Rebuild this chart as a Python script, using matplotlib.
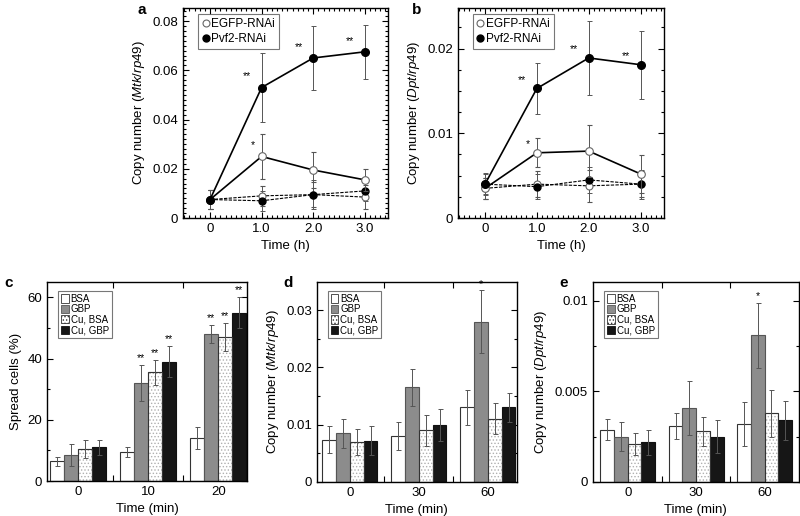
import matplotlib
matplotlib.use("Agg")
import matplotlib.pyplot as plt
import numpy as np
from matplotlib.ticker import MultipleLocator, FixedLocator
from matplotlib.patches import Patch
from matplotlib.lines import Line2D

plt.rcParams['font.family'] = ['Liberation Sans', 'DejaVu Sans']
plt.rcParams['mathtext.fontset'] = 'custom'
plt.rcParams['mathtext.rm'] = 'Liberation Sans'
plt.rcParams['mathtext.it'] = 'Liberation Sans:italic'
plt.rcParams['hatch.linewidth'] = 0.6

# ---------------- data ----------------
time_h = [0, 1.0, 2.0, 3.0]
time_h_labels = ['0', '1.0', '2.0', '3.0']

# Panel a (Mtk/rp49)
a_pvf2 = [0.0075, 0.053, 0.065, 0.0675]
a_pvf2_err = [0.004, 0.014, 0.013, 0.011]
a_egfp = [0.0075, 0.025, 0.0195, 0.0155]
a_egfp_err = [0.004, 0.009, 0.0075, 0.0045]
a_pvf2_ctrl = [0.0075, 0.007, 0.0095, 0.011]
a_pvf2_ctrl_err = [0.004, 0.004, 0.006, 0.004]
a_egfp_ctrl = [0.0075, 0.009, 0.0095, 0.0085]
a_egfp_ctrl_err = [0.004, 0.004, 0.005, 0.005]
a_pvf2_stars = ['', '**', '**', '**']
a_egfp_stars = ['', '*', '', '']

# Panel b (Dpt/rp49)
b_pvf2 = [0.004, 0.0153, 0.0189, 0.0181]
b_pvf2_err = [0.0013, 0.003, 0.0044, 0.004]
b_egfp = [0.0035, 0.0077, 0.0079, 0.0052]
b_egfp_err = [0.0012, 0.0017, 0.0031, 0.0022]
b_pvf2_ctrl = [0.004, 0.0037, 0.0045, 0.004]
b_pvf2_ctrl_err = [0.0012, 0.0015, 0.0015, 0.0017]
b_egfp_ctrl = [0.0035, 0.004, 0.0038, 0.004]
b_egfp_ctrl_err = [0.0012, 0.0015, 0.0019, 0.0015]
b_pvf2_stars = ['', '**', '**', '**']
b_egfp_stars = ['', '*', '', '']

# Bar panels
bar_groups = ['BSA', 'GBP', 'Cu, BSA', 'Cu, GBP']
c_labels = ['0', '10', '20']
c_vals = {
    'BSA': [6.5, 9.5, 14.0],
    'GBP': [8.5, 32.0, 48.0],
    'Cu, BSA': [10.5, 35.5, 47.0],
    'Cu, GBP': [11.0, 39.0, 55.0],
}
c_errs = {
    'BSA': [1.5, 1.5, 3.5],
    'GBP': [3.5, 6.0, 3.0],
    'Cu, BSA': [3.0, 4.0, 4.5],
    'Cu, GBP': [2.5, 5.0, 5.0],
}
c_stars = {
    'BSA': ['', '', ''],
    'GBP': ['', '**', '**'],
    'Cu, BSA': ['', '**', '**'],
    'Cu, GBP': ['', '**', '**'],
}

d_labels = ['0', '30', '60']
d_vals = {
    'BSA': [0.0074, 0.008, 0.013],
    'GBP': [0.0085, 0.0165, 0.028],
    'Cu, BSA': [0.007, 0.009, 0.011],
    'Cu, GBP': [0.0072, 0.010, 0.013],
}
d_errs = {
    'BSA': [0.0023, 0.0025, 0.003],
    'GBP': [0.0025, 0.0033, 0.0055],
    'Cu, BSA': [0.0023, 0.0027, 0.0027],
    'Cu, GBP': [0.0025, 0.0028, 0.0025],
}
d_stars = {
    'BSA': ['', '', ''],
    'GBP': ['', '', '*'],
    'Cu, BSA': ['', '', ''],
    'Cu, GBP': ['', '', ''],
}

e_labels = ['0', '30', '60']
e_vals = {
    'BSA': [0.0029, 0.0031, 0.0032],
    'GBP': [0.0025, 0.0041, 0.0081],
    'Cu, BSA': [0.0021, 0.0028, 0.0038],
    'Cu, GBP': [0.0022, 0.0025, 0.0034],
}
e_errs = {
    'BSA': [0.0006, 0.0007, 0.0012],
    'GBP': [0.0008, 0.0015, 0.0018],
    'Cu, BSA': [0.0006, 0.0008, 0.0013],
    'Cu, GBP': [0.0007, 0.0009, 0.0011],
}
e_stars = {
    'BSA': ['', '', ''],
    'GBP': ['', '', '*'],
    'Cu, BSA': ['', '', ''],
    'Cu, GBP': ['', '', ''],
}

# ---------------- styling ----------------
FS = 9.5
TFS = 9.5
ERRC = '#555555'

fig = plt.figure(figsize=(8.0, 5.16), dpi=100)


def style_axes(ax):
    ax.tick_params(which='both', direction='in', top=True, right=True,
                   labelsize=TFS, width=0.8)
    ax.tick_params(which='major', length=4)
    ax.tick_params(which='minor', length=2)
    for s in ax.spines.values():
        s.set_linewidth(1.0)


def line_panel(rect, pvf2, pvf2e, egfp, egfpe, pvc, pvce, egc, egce,
               pst, est, ylim, ymaj, ymin, ylabel, star_dy):
    ax = fig.add_axes(rect)
    ekw = dict(ecolor=ERRC, elinewidth=0.7, capsize=1.8, capthick=0.7)
    # control (dashed)
    ax.errorbar(time_h, egc, yerr=egce, color='black', ls=(0, (3, 1.2)), lw=0.8,
                marker='o', ms=5, mfc='white', mec='#666666', mew=0.8, zorder=3, **ekw)
    ax.errorbar(time_h, pvc, yerr=pvce, color='black', ls=(0, (3, 1.2)), lw=0.8,
                marker='o', ms=5, mfc='black', mec='black', zorder=3, **ekw)
    # treatment (solid)
    ax.errorbar(time_h, egfp, yerr=egfpe, color='black', ls='-', lw=1.2,
                marker='o', ms=5.5, mfc='white', mec='#666666', mew=0.8, zorder=4, **ekw)
    ax.errorbar(time_h, pvf2, yerr=pvf2e, color='black', ls='-', lw=1.2,
                marker='o', ms=5.5, mfc='black', mec='black', zorder=4, **ekw)
    for x, y, s in zip(time_h, pvf2, pst):
        if s:
            ax.text(x - 0.28, y + star_dy, s, ha='center', va='center', fontsize=7.5)
    for x, y, s in zip(time_h, egfp, est):
        if s:
            ax.text(x - 0.17, y + star_dy, s, ha='center', va='center', fontsize=7.5)
    ax.set_xlim(-0.52, 3.45)
    ax.set_ylim(*ylim)
    ax.set_xticks(time_h)
    ax.set_xticklabels(time_h_labels)
    ax.xaxis.set_minor_locator(MultipleLocator(0.1))
    ax.yaxis.set_major_locator(MultipleLocator(ymaj))
    ax.yaxis.set_minor_locator(MultipleLocator(ymin))
    ax.yaxis.set_major_formatter(matplotlib.ticker.FuncFormatter(
        lambda v, p: '0' if abs(v) < 1e-12 else ('%g' % v)))
    ax.set_xlabel('Time (h)', fontsize=FS)
    ax.set_ylabel(ylabel, fontsize=FS, labelpad=4)
    style_axes(ax)
    handles = [
        Line2D([], [], ls='none', marker='o', ms=5, mfc='white', mec='#666666', mew=0.8),
        Line2D([], [], ls='none', marker='o', ms=5, mfc='black', mec='black'),
    ]
    leg = ax.legend(handles, ['EGFP-RNAi', 'Pvf2-RNAi'], loc='upper left',
                    bbox_to_anchor=(0.06, 0.985), fontsize=8.5, frameon=True,
                    fancybox=False, edgecolor='#555555', handlelength=0.6,
                    handletextpad=0.2, borderpad=0.35, labelspacing=0.3,
                    borderaxespad=0.2)
    leg.get_frame().set_linewidth(0.8)
    return ax


axa = line_panel([0.229, 0.5775, 0.256, 0.407], a_pvf2, a_pvf2_err, a_egfp, a_egfp_err,
                 a_pvf2_ctrl, a_pvf2_ctrl_err, a_egfp_ctrl, a_egfp_ctrl_err,
                 a_pvf2_stars, a_egfp_stars, (0, 0.0853), 0.02, 0.002,
                 'Copy number ($\\mathit{Mtk/rp49}$)', 0.0045)
axb = line_panel([0.5725, 0.5775, 0.2575, 0.407], b_pvf2, b_pvf2_err, b_egfp, b_egfp_err,
                 b_pvf2_ctrl, b_pvf2_ctrl_err, b_egfp_ctrl, b_egfp_ctrl_err,
                 b_pvf2_stars, b_egfp_stars, (0, 0.0248), 0.01, 0.0025,
                 'Copy number ($\\mathit{Dpt/rp49}$)', 0.0010)

bar_styles = {
    'BSA': dict(facecolor='white', edgecolor='#333333', hatch=None),
    'GBP': dict(facecolor='#8c8c8c', edgecolor='#555555', hatch=None),
    'Cu, BSA': dict(facecolor='white', edgecolor='#b0b0b0', hatch='.....'),
    'Cu, GBP': dict(facecolor='#161616', edgecolor='#111111', hatch=None),
}


def bar_panel(rect, labels, vals, errs, stars, xlim, ylim, ymaj, ymin, ylabel, star_dy):
    ax = fig.add_axes(rect)
    w = 0.2
    x = np.arange(len(labels))
    for i, g in enumerate(bar_groups):
        st = bar_styles[g]
        pos = x + (i - 1.5) * w
        ax.bar(pos, vals[g], width=w, facecolor=st['facecolor'],
               edgecolor=st['edgecolor'], hatch=st['hatch'], linewidth=0.8,
               label=g, zorder=2)
        if g == 'Cu, BSA':
            ax.bar(pos, vals[g], width=w, facecolor='none', edgecolor='#333333',
                   linewidth=0.8, zorder=2.1)
        ax.errorbar(pos, vals[g], yerr=errs[g], fmt='none', ecolor=ERRC,
                    elinewidth=0.7, capsize=1.8, capthick=0.7, zorder=3)
        for p, v, e, s in zip(pos, vals[g], errs[g], stars[g]):
            if s:
                ax.text(p, v + e + star_dy, s, ha='center', va='bottom', fontsize=7.5)
    ax.set_xlim(*xlim)
    ax.set_ylim(*ylim)
    ax.set_xticks(x)
    ax.set_xticklabels(labels)
    ax.xaxis.set_minor_locator(FixedLocator(x[:-1] + 0.5))
    ax.yaxis.set_major_locator(MultipleLocator(ymaj))
    ax.yaxis.set_minor_locator(MultipleLocator(ymin))
    ax.yaxis.set_major_formatter(matplotlib.ticker.FuncFormatter(
        lambda v, p: '0' if abs(v) < 1e-12 else ('%g' % v)))
    ax.set_xlabel('Time (min)', fontsize=FS)
    ax.set_ylabel(ylabel, fontsize=FS, labelpad=4)
    style_axes(ax)
    ax.tick_params(axis='x', which='major', top=False)
    ax.tick_params(axis='x', which='minor', length=4)
    handles = []
    for g in bar_groups:
        st = bar_styles[g]
        ec = '#333333' if g in ('BSA', 'Cu, BSA') else st['edgecolor']
        handles.append(Patch(facecolor=st['facecolor'], edgecolor=ec,
                             hatch=st['hatch'], linewidth=0.6))
    leg = ax.legend(handles, bar_groups, loc='upper left',
                    bbox_to_anchor=(0.045, 0.965), fontsize=7, frameon=True,
                    fancybox=False, edgecolor='#555555', handlelength=0.8,
                    handleheight=0.9, handletextpad=0.2, borderpad=0.3,
                    labelspacing=0.05, borderaxespad=0.2)
    leg.get_frame().set_linewidth(0.8)
    return ax


axc = bar_panel([0.05875, 0.0678, 0.25, 0.3857], c_labels, c_vals, c_errs, c_stars,
                (-0.44, 2.41), (0, 65), 20, 10, 'Spread cells (%)', 0.6)
axd = bar_panel([0.396, 0.0659, 0.25, 0.3876], d_labels, d_vals, d_errs, d_stars,
                (-0.48, 2.42), (0, 0.0349), 0.01, 0.005,
                'Copy number ($\\mathit{Mtk/rp49}$)', 0.0002)
axe = bar_panel([0.741, 0.0659, 0.2575, 0.3876], e_labels, e_vals, e_errs, e_stars,
                (-0.51, 2.5), (0, 0.01105), 0.005, 0.0025,
                'Copy number ($\\mathit{Dpt/rp49}$)', 0.0001)

for lab, xx, yy in [('a', 137, 3), ('b', 412, 3), ('c', 4, 276), ('d', 283, 276), ('e', 559, 276)]:
    fig.text(xx / 800, 1 - yy / 516, lab, fontsize=11, fontweight='bold',
             ha='left', va='top')

fig.savefig('out.png', dpi=100)
